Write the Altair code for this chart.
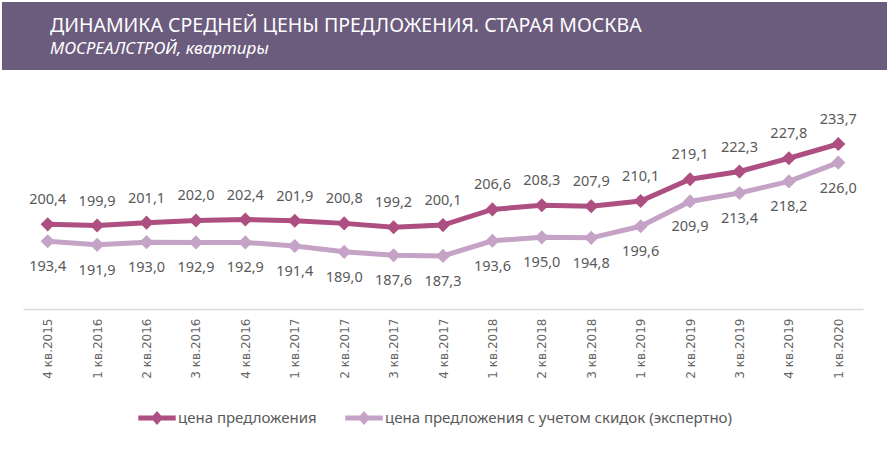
import altair as alt
import pandas as pd

quarters = ["4 кв.2015", "1 кв.2016", "2 кв.2016", "3 кв.2016", "4 кв.2016",
            "1 кв.2017", "2 кв.2017", "3 кв.2017", "4 кв.2017", "1 кв.2018",
            "2 кв.2018", "3 кв.2018", "1 кв.2019", "2 кв.2019", "3 кв.2019",
            "4 кв.2019", "1 кв.2020"]
offer = [200.4, 199.9, 201.1, 202.0, 202.4, 201.9, 200.8, 199.2, 200.1,
         206.6, 208.3, 207.9, 210.1, 219.1, 222.3, 227.8, 233.7]
discount = [193.4, 191.9, 193.0, 192.9, 192.9, 191.4, 189.0, 187.6, 187.3,
            193.6, 195.0, 194.8, 199.6, 209.9, 213.4, 218.2, 226.0]
series_names = ["цена предложения", "цена предложения с учетом скидок (экспертно)"]
series_colors = ["#ad4f80", "#c4a3c6"]
title_text = "ДИНАМИКА СРЕДНЕЙ ЦЕНЫ ПРЕДЛОЖЕНИЯ. СТАРАЯ МОСКВА"
subtitle_text = "МОСРЕАЛСТРОЙ, квартиры"

rows = []
for q, a, b in zip(quarters, offer, discount):
    rows.append({"q": q, "v": a, "s": series_names[0], "lab": f"{a:.1f}".replace(".", ",")})
    rows.append({"q": q, "v": b, "s": series_names[1], "lab": f"{b:.1f}".replace(".", ",")})
df = pd.DataFrame(rows)
hdr = pd.DataFrame({"t": [title_text], "st": [subtitle_text]})

FONT = "Noto Sans"
GREY = "#595959"

x = alt.X("q:N", sort=quarters, title=None,
          scale=alt.Scale(type="point", padding=0.5),
          axis=alt.Axis(labelAngle=270, labelFont="DejaVu Sans", labelFontSize=12,
                        labelColor="#666666", ticks=False, labelPadding=9,
                        domainColor="#d9d9d9", domainWidth=1.5, labelAlign="right",
                        labelBaseline="middle"))
y = alt.Y("v:Q", title=None, scale=alt.Scale(domain=[165.3, 256.1], nice=False, zero=False),
          axis=None)
color_scale = alt.Scale(domain=series_names, range=series_colors)
sym = "M-1,-0.13H1V0.13H-1Z M0,-0.38L0.33,0L0,0.38L-0.33,0Z"
legend = alt.Legend(orient="none", legendX=115, legendY=309,
                    direction="horizontal", symbolType=sym,
                    symbolSize=1400, symbolStrokeWidth=0,
                    labelFont=FONT, labelFontSize=15, labelColor=GREY,
                    labelOffset=2, columnPadding=28, labelLimit=500, title=None)
color = alt.Color("s:N", scale=color_scale, title=None, legend=legend)

base = alt.Chart(df)
hbase = alt.Chart(hdr)

header = hbase.mark_rect(color="#6b5b7d").encode(
    x=alt.value(-21), x2=alt.value(864), y=alt.value(-88), y2=alt.value(-20))
title = hbase.mark_text(font=FONT, fontSize=19.5, color="white", align="left",
                        baseline="alphabetic").encode(
    x=alt.value(27), y=alt.value(-58), text="t:N")
subtitle = hbase.mark_text(font=FONT, fontSize=17, fontStyle="italic", color="white",
                           align="left", baseline="alphabetic").encode(
    x=alt.value(27), y=alt.value(-36), text="st:N")

lines = base.mark_line(strokeWidth=5).encode(x=x, y=y, color=color)
points = base.mark_point(filled=True, shape="diamond", size=200, opacity=1).encode(
    x=x, y=y, color=color)

top_labels = base.mark_text(font=FONT, fontSize=14.5, color=GREY, dy=-24).encode(
    x=x, y=y, text="lab:N").transform_filter(alt.datum.s == series_names[0])
bot_labels = base.mark_text(font=FONT, fontSize=14.5, color=GREY, dy=26).encode(
    x=x, y=y, text="lab:N").transform_filter(alt.datum.s == series_names[1])

chart = alt.layer(header, title, subtitle, lines, points, top_labels, bot_labels).properties(
    width=840, height=219,
    autosize=alt.AutoSizeParams(type="none"),
    padding={"left": 23, "top": 90, "right": 27, "bottom": 140},
).configure_view(stroke=None)

chart.save("out.html", embed_options={"renderer": "svg", "actions": False})
